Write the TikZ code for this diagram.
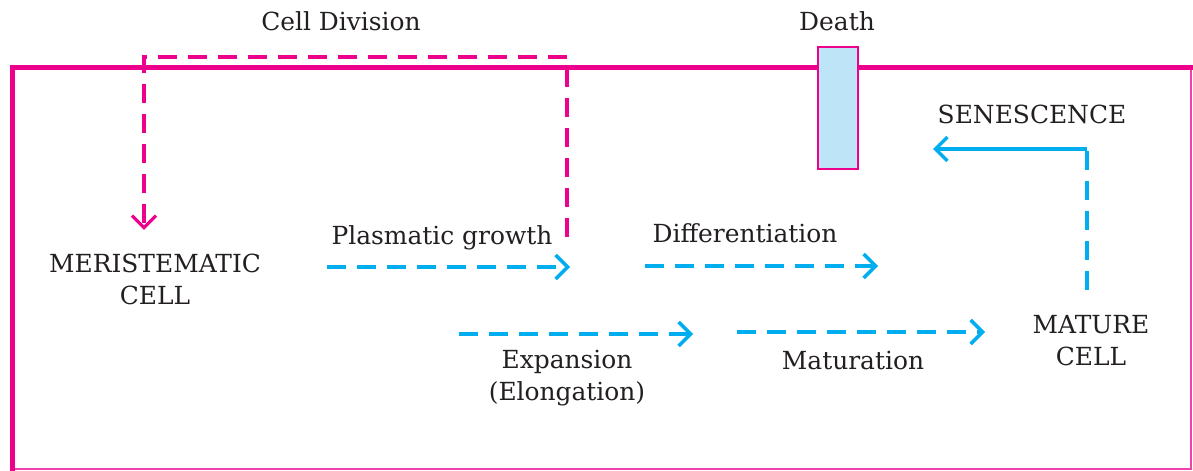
\documentclass[tikz,border=0pt]{standalone}
\usepackage{fontspec}
\setmainfont{DejaVu Serif}
\usepackage{xcolor}
\definecolor{frameline}{HTML}{EC008C}
\definecolor{flowline}{HTML}{00AEEF}
\definecolor{deathfill}{HTML}{BDE5F7}
\definecolor{ink}{HTML}{231F20}
\usepackage{tikz}
\usetikzlibrary{arrows.meta}

\begin{document}
\begin{tikzpicture}[x=1bp,y=-1bp,>={Straight Barb[length=12bp,width=24bp]},
  every node/.style={font=\fontsize{25}{32}\selectfont,text=ink,align=center},
  pinkdash/.style={draw=frameline,line width=3.2bp,dash pattern=on 19bp off 11bp},
  bluedash/.style={draw=flowline,line width=3.5bp,dash pattern=on 19bp off 11bp},
  deathbox/.style={draw=frameline,fill=deathfill,line width=2.5bp,minimum width=40bp,minimum height=122bp,inner sep=0pt}]
\useasboundingbox (0,0) rectangle (1193,471);
\draw[frameline!75,line width=1.5bp] (12,68) rectangle (1191,469);
\draw[frameline,line width=5bp] (9.5,68) -- (1193,68);
\draw[frameline,line width=5bp] (12,66) -- (12,471);
\node[deathbox] (dbox) at (838,108) {};
\node[anchor=base] (death) at (837,31) {Death};
\node[anchor=base] (division) at (341,31) {Cell Division};
\node[anchor=base] (senescence) at (1032,124) {SENESCENCE};
\node (meristem) at (155,279) {MERISTEMATIC\\CELL};
\node (mature) at (1091,341) {MATURE\\CELL};
\node[anchor=base] (plasmatic) at (442,245) {Plasmatic growth};
\node[anchor=base] (differ) at (745,243) {Differentiation};
\node (expansion) at (567,378) {Expansion\\(Elongation)};
\node[anchor=base] (maturation) at (853,370) {Maturation};
\coordinate (divstart) at (567,237);
\coordinate (divend) at (144,230);
\coordinate (pgstart) at (327,267);
\coordinate (pgend) at (570,267);
\coordinate (dfstart) at (645,266);
\coordinate (dfend) at (878,266);
\coordinate (exstart) at (459,334);
\coordinate (exend) at (693,334);
\coordinate (mtstart) at (737,332);
\coordinate (mtend) at (985,332);
\coordinate (snstart) at (1087,290);
\coordinate (sncorner) at (1087,149);
\coordinate (snend) at (933,149);
\draw[->,pinkdash] (divstart) -- (567,57) -- (144,57) -- (divend);
\draw[->,bluedash] (pgstart) -- (pgend);
\draw[->,bluedash] (dfstart) -- (dfend);
\draw[->,bluedash] (exstart) -- (exend);
\draw[->,bluedash] (mtstart) -- (mtend);
\draw[bluedash] (snstart) -- (sncorner);
\draw[->,flowline,line width=3.5bp] (sncorner) -- (snend);
\end{tikzpicture}
\end{document}
